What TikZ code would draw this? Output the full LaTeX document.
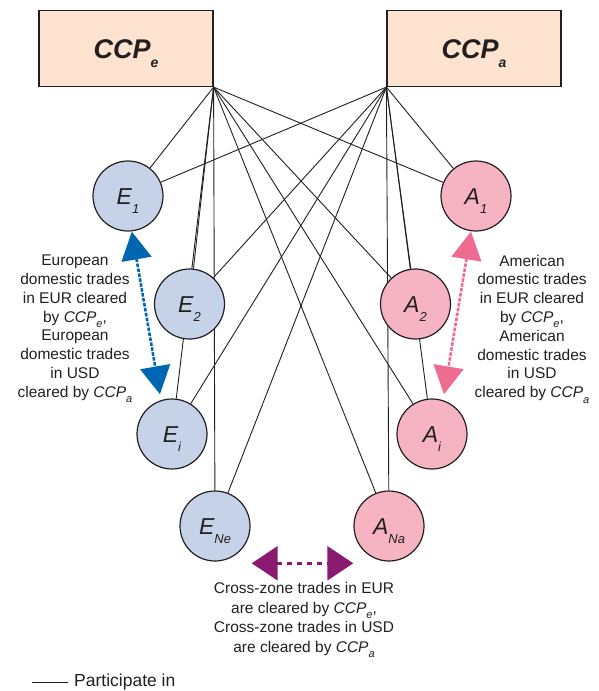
\documentclass[tikz,border=0pt]{standalone}
\usepackage{fontspec}
\setmainfont{Liberation Sans}
\usetikzlibrary{arrows.meta,backgrounds}
\definecolor{peach}{RGB}{253,227,208}
\definecolor{bluefill}{RGB}{197,210,232}
\definecolor{pinkfill}{RGB}{246,180,194}
\definecolor{bluearr}{RGB}{0,102,178}
\definecolor{pinkarr}{RGB}{238,107,146}
\definecolor{purparr}{RGB}{137,26,111}
\definecolor{linec}{RGB}{35,31,32}
\definecolor{textc}{RGB}{35,31,32}
\newcommand\sbig[1]{\raisebox{-9pt}{\fontsize{13}{13}\selectfont #1}}
\newcommand\ssmall[1]{\raisebox{-5.5pt}{\fontsize{11}{11}\selectfont #1}}
\begin{document}
\begin{tikzpicture}[x=1pt,y=-1pt,
  ccp/.style={draw=linec, line width=1.2pt, fill=peach, minimum width=174pt, minimum height=76pt, inner sep=0pt, text=textc,
    font=\fontsize{27}{27}\selectfont\bfseries\itshape, text height=19.5pt, text depth=0pt},
  enode/.style={circle, draw=linec, line width=1.2pt, fill=bluefill, minimum size=70pt, inner sep=0pt, text=textc,
    font=\fontsize{23}{23}\selectfont\itshape, text height=16.5pt, text depth=0pt},
  anode/.style={enode, fill=pinkfill},
  link/.style={draw=linec, line width=0.9pt},
  note/.style={align=center, font=\fontsize{15.5}{18.8}\selectfont, text=textc, inner sep=0pt},
  darr/.style={line width=2.6pt, dash pattern=on 3.5pt off 1.5pt, {Triangle[length=28pt,width=30pt]}-{Triangle[length=28pt,width=30pt]}},
]
\useasboundingbox (0,0) rectangle (599,691);

\node[ccp] (CCPe) at (126,48.5) {CCP\raisebox{-9pt}{\fontsize{14}{14}\selectfont e}};
\node[ccp] (CCPa) at (474,48.5) {CCP\raisebox{-9pt}{\fontsize{14}{14}\selectfont a}};

\node[enode] (E1) at (128,196) {E\sbig{1}};
\node[enode] (E2) at (189.5,304) {E\sbig{2}};
\node[enode] (Ei) at (172,434) {E\sbig{i}};
\node[enode] (ENe) at (215,526) {E\sbig{Ne}};
\node[anode] (A1) at (476,196) {A\sbig{1}};
\node[anode] (A2) at (415.5,304) {A\sbig{2}};
\node[anode] (Ai) at (432,434) {A\sbig{i}};
\node[anode] (ANa) at (389,526) {A\sbig{Na}};

\coordinate (ce) at (CCPe.south east);
\coordinate (ca) at (CCPa.south west);

\begin{scope}[on background layer]
\foreach \n in {E1,E2,Ei,ENe,A1,A2,Ai,ANa}{
  \draw[link] (ce) -- (\n);
  \draw[link] (ca) -- (\n);
}
\end{scope}

\draw[darr, draw=bluearr, fill=bluearr, shorten <=0.3pt, shorten >=6pt] (E1.-84) -- (Ei.108);
\draw[darr, draw=pinkarr, fill=pinkarr, shorten <=0.3pt, shorten >=6pt] (A1.-98) -- (Ai.72);

\coordinate (pl) at (251.7,563.3);
\coordinate (pr) at (353.3,563.3);
\draw[line width=2.6pt, draw=purparr, dash pattern=on 5pt off 5pt,
  {Triangle[length=26pt,width=34pt,fill=purparr]}-{Triangle[length=26pt,width=34pt,fill=purparr]}] (pl) -- (pr);

\node[note] (tl) at (75,329) {European\\domestic trades\\in EUR cleared\\by \textit{CCP}\ssmall{\textit{e}},\\European\\domestic trades\\in USD\\cleared by \textit{CCP}\ssmall{\textit{a}}};
\node[note] (tr) at (532,329) {American\\domestic trades\\in EUR cleared\\by \textit{CCP}\ssmall{\textit{e}},\\American\\domestic trades\\in USD\\cleared by \textit{CCP}\ssmall{\textit{a}}};
\node[note, font=\fontsize{15.5}{19.6}\selectfont] (tb) at (304,620) {Cross-zone trades in EUR\\are cleared by \textit{CCP}\ssmall{\textit{e}},\\Cross-zone trades in USD\\are cleared by \textit{CCP}\ssmall{\textit{a}}};

\coordinate (lg1) at (31.7,682.7);
\coordinate (lg2) at (68.3,682.7);
\draw[link] (lg1) -- (lg2);
\node[note, anchor=west, font=\fontsize{17.5}{18}\selectfont] (lgt) at (74,682) {Participate in};
\end{tikzpicture}
\end{document}
